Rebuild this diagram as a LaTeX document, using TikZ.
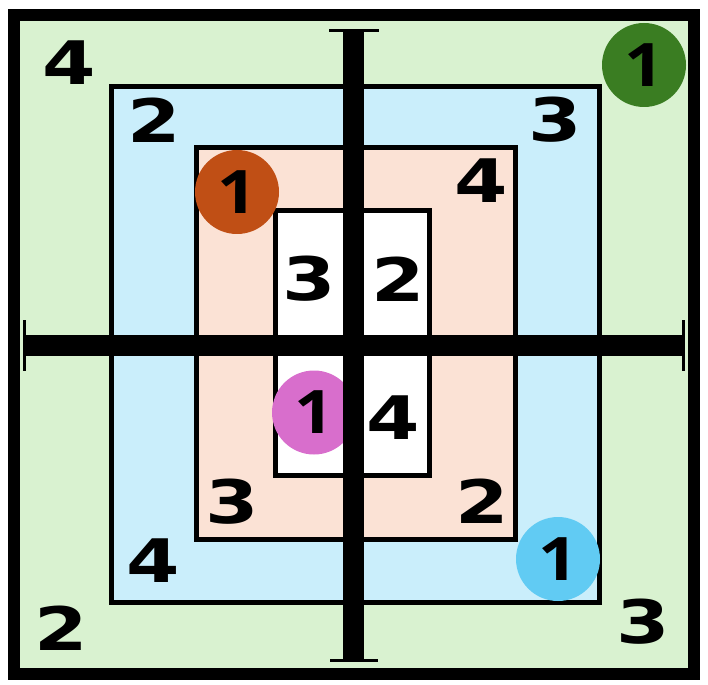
\documentclass[tikz,border=0pt]{standalone}
\usepackage{fontspec}
\setmainfont{DejaVu Sans}
\newfontfamily\onefont{Open Sans}
\definecolor{bggreen}{HTML}{D9F2D0}
\definecolor{bgblue}{HTML}{CAEEFB}
\definecolor{bgsalmon}{HTML}{FBE2D5}
\definecolor{cgreen}{HTML}{3A7D22}
\definecolor{corange}{HTML}{C04F15}
\definecolor{cpink}{HTML}{D86ECC}
\definecolor{cblue}{HTML}{61CBF3}
\newcommand{\digitx}[1]{\scalebox{1.28}[1]{#1}}
\begin{document}
\begin{tikzpicture}[x=1pt,y=-1pt,
  region/.style={draw=black,line width=5pt,inner sep=0pt,outer sep=0pt},
  frame/.style={draw=black,line width=12pt,inner sep=0pt,outer sep=0pt},
  digit/.style={inner sep=0pt,outer sep=0pt,font=\fontsize{60}{60}\selectfont\bfseries},
  badge/.style={circle,minimum size=84pt,inner sep=0pt,outer sep=0pt,font=\onefont\fontsize{60}{60}\selectfont\bfseries},
  bar/.style={line width=21pt,line cap=butt},
  barcap/.style={line width=3pt,line cap=butt}]
\fill[white] (0,0) rectangle (708,684);
\useasboundingbox (0,0) rectangle (708,684);
% regions
\node[frame,fill=bggreen,minimum width=680pt,minimum height=659pt] (outer) at (354,344.5) {};
\node[region,fill=bgblue,minimum width=487.5pt,minimum height=516pt] (blue) at (355.25,344.5) {};
\node[region,fill=bgsalmon,minimum width=319pt,minimum height=391.5pt] (salmon) at (356,343.75) {};
\node[region,fill=white,minimum width=154pt,minimum height=265.3pt] (inner) at (352.5,343.15) {};
% green region digits
\node[digit] (g4) at (69,63) {\digitx{4}};
\node[badge,fill=cgreen] (g1) at (644,65) {\scalebox{1.15}[1]{1}};
\node[digit] (g2) at (61,628) {\digitx{2}};
\node[digit] (g3) at (643,622) {\digitx{3}};
% blue region digits
\node[digit] (b2) at (154.5,120) {\digitx{2}};
\node[digit] (b3) at (555,120) {\digitx{3}};
\node[digit] (b4) at (153,561) {\digitx{4}};
\node[badge,fill=cblue] (b1) at (558,559) {\scalebox{1.15}[1]{1}};
% salmon region digits
\node[badge,fill=corange] (s1) at (237,192) {\scalebox{1.15}[1]{1}};
\node[digit] (s4) at (481,181) {\digitx{4}};
\node[digit] (s3) at (232,502) {\digitx{3}};
\node[digit] (s2) at (482,501) {\digitx{2}};
% inner region digits
\node[digit] (w3) at (309,279) {\digitx{3}};
\node[digit] (w2) at (398,279) {\digitx{2}};
\node[badge,fill=cpink] (w1) at (314,412.5) {\scalebox{1.15}[1]{1}};
\node[digit] (w4) at (393,418) {\digitx{4}};
% axes
\coordinate (hl) at (26,345);
\coordinate (hr) at (682,345);
\coordinate (vt) at (353.8,32);
\coordinate (vb) at (353.8,659);
\coordinate (hlc1) at (24.5,320);
\coordinate (hlc2) at (24.5,371);
\coordinate (hrc1) at (683.5,320);
\coordinate (hrc2) at (683.5,371);
\coordinate (vtc1) at (329,30.5);
\coordinate (vtc2) at (379,30.5);
\coordinate (vbc1) at (330,660.5);
\coordinate (vbc2) at (378,660.5);
\draw[bar] (hl) -- (hr);
\draw[bar] (vt) -- (vb);
\draw[barcap] (hlc1) -- (hlc2);
\draw[barcap] (hrc1) -- (hrc2);
\draw[barcap] (vtc1) -- (vtc2);
\draw[barcap] (vbc1) -- (vbc2);
\end{tikzpicture}
\end{document}
